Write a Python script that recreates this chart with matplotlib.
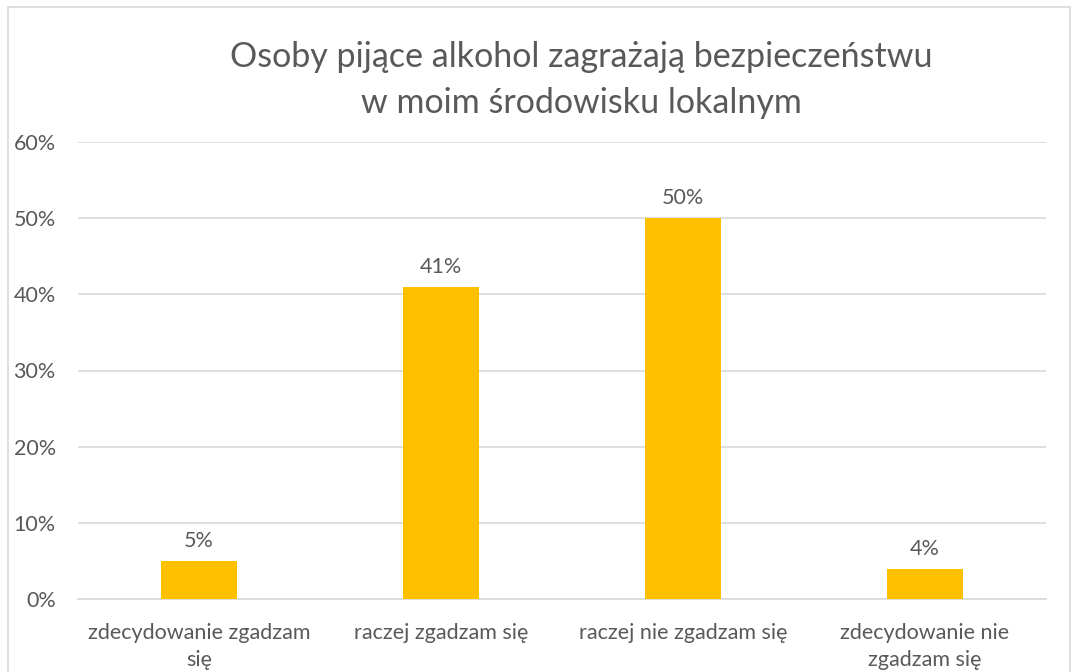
import matplotlib.pyplot as plt
from matplotlib.patches import Rectangle
from matplotlib.ticker import FuncFormatter

categories = ['zdecydowanie zgadzam\nsię', 'raczej zgadzam się',
              'raczej nie zgadzam się', 'zdecydowanie nie\nzgadzam się']
values = [5, 41, 50, 4]
yticks = [0, 10, 20, 30, 40, 50, 60]
title = 'Osoby pijące alkohol zagrażają bezpieczeństwu\nw moim środowisku lokalnym'

plt.rcParams['font.family'] = ['Lato', 'DejaVu Sans']
txt = '#595959'

fig = plt.figure(figsize=(10.77, 6.72), dpi=100)
W, H = 1077, 672
fig.patches.append(Rectangle((8 / W, -0.1), (1070 - 8) / W, 1.1 - 7 / H,
                             transform=fig.transFigure, fill=False,
                             edgecolor='#d9d9d9', linewidth=1.2))

ax = fig.add_axes([78 / W, 1 - 599 / H, (1046 - 78) / W, (599 - 142) / H])
x = range(len(categories))
bars = ax.bar(x, values, width=0.31, color='#FFC000', zorder=3)
for b, v in zip(bars, values):
    ax.text(b.get_x() + b.get_width() / 2, v + 1.3, f'{v}%', ha='center',
            va='bottom', fontsize=15.5, color=txt)

ax.set_xlim(-0.5, 3.5)
ax.set_ylim(0, 60)
ax.set_yticks(yticks)
ax.yaxis.set_major_formatter(FuncFormatter(lambda v, p: f'{v:.0f}%'))
ax.set_xticks(list(x))
ax.set_xticklabels(categories, linespacing=1.45)
ax.tick_params(axis='y', length=0, pad=16, labelsize=15.5, labelcolor=txt)
ax.tick_params(axis='x', length=0, pad=17, labelsize=15.5, labelcolor=txt)
ax.grid(axis='y', color='#d9d9d9', linewidth=1.2, zorder=0)
for s in ['top', 'right', 'left']:
    ax.spines[s].set_visible(False)
ax.spines['bottom'].set_color('#d9d9d9')
ax.spines['bottom'].set_linewidth(1.2)

fig.text(581 / W, 1 - 80 / H, title, ha='center', va='center', fontsize=24.5,
         color=txt, linespacing=1.55)

fig.savefig('out.png', dpi=100)
